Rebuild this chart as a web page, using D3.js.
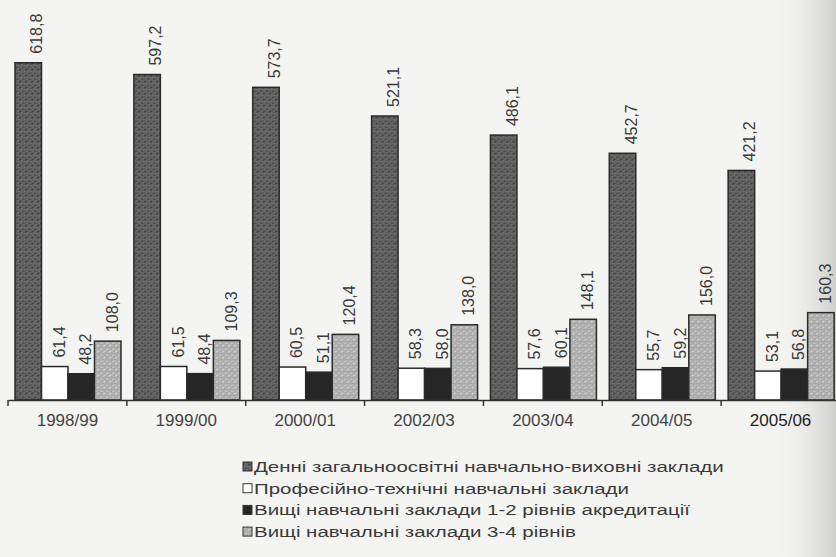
<!DOCTYPE html>
<html>
<head>
<meta charset="utf-8">
<script src="https://cdn.jsdelivr.net/npm/d3@7"></script>
<style>
  html, body { margin: 0; padding: 0; background: #f4f4f2; }
  svg { display: block; font-family: Arial, "Liberation Sans", sans-serif; }
</style>
</head>
<body>
<svg id="chart" width="836" height="557"></svg>
<script>
// School years
const years = ["1998/99", "1999/00", "2000/01", "2002/03", "2003/04", "2004/05", "2005/06"];

// Values per type of institution, one array per series
const dayGeneral = [618.8, 597.2, 573.7, 521.1, 486.1, 452.7, 421.2];
const vocational = [61.4, 61.5, 60.5, 58.3, 57.6, 55.7, 53.1];
const higher12   = [48.2, 48.4, 51.1, 58.0, 60.1, 59.2, 56.8];
const higher34   = [108.0, 109.3, 120.4, 138.0, 148.1, 156.0, 160.3];

const seriesNames = [
  "Денні загальноосвітні навчально-виховні заклади",
  "Професійно-технічні навчальні заклади",
  "Вищі навчальні заклади 1-2 рівнів акредитації",
  "Вищі навчальні заклади 3-4 рівнів"
];

const seriesValues = [dayGeneral, vocational, higher12, higher34];
const fills = ["url(#darkDots)", "#ffffff", "#262626", "url(#lightDots)"];
const labelShift = [14, 10, 10, 10];

const svg = d3.select("#chart");
const W = 836, H = 557;

// page background with a darker strip along the right edge
const defs = svg.append("defs");
const edge = defs.append("linearGradient").attr("id", "edge").attr("x1", 0).attr("x2", 1);
edge.append("stop").attr("offset", "0").attr("stop-color", "#f4f4f2").attr("stop-opacity", 0);
edge.append("stop").attr("offset", "1").attr("stop-color", "#cfcfcd").attr("stop-opacity", 1);

// speckled fills
function speckle(id, base, dot, dot2) {
  const p = defs.append("pattern").attr("id", id)
    .attr("patternUnits", "userSpaceOnUse").attr("width", 6).attr("height", 6);
  p.append("rect").attr("width", 6).attr("height", 6).attr("fill", base);
  [[0.5, 0.5], [3.5, 2.5], [1.5, 4.5], [4.5, 5]].forEach(([x, y]) =>
    p.append("rect").attr("x", x).attr("y", y).attr("width", 1).attr("height", 1).attr("fill", dot));
  [[2.5, 1], [5, 3.5], [0, 3]].forEach(([x, y]) =>
    p.append("rect").attr("x", x).attr("y", y).attr("width", 1).attr("height", 1).attr("fill", dot2));
}
speckle("darkDots", "#5c5c5c", "#8a8a8a", "#3a3a3a");
speckle("lightDots", "#b4b4b4", "#8c8c8c", "#d6d6d6");

svg.append("rect").attr("width", W).attr("height", H).attr("fill", "#f4f4f2");
svg.append("rect").attr("x", 770).attr("width", 66).attr("height", H).attr("fill", "url(#edge)");

const baseY = 400;
const x0 = d3.scaleBand().domain(years).range([8, 840]).paddingInner(0).paddingOuter(0);
const x1 = d3.scaleBand().domain(d3.range(4)).range([7, 113]);
const y = d3.scaleLinear().domain([0, 700]).range([baseY, 18.5]);

// bars
const groups = svg.append("g").selectAll("g")
  .data(years)
  .join("g")
  .attr("transform", d => `translate(${x0(d)},0)`);

groups.selectAll("rect")
  .data((d, i) => seriesValues.map((s, k) => ({ k, v: s[i] })))
  .join("rect")
  .attr("x", d => x1(d.k))
  .attr("y", d => y(d.v))
  .attr("width", x1.bandwidth())
  .attr("height", d => baseY - y(d.v))
  .attr("fill", d => fills[d.k])
  .attr("stroke", "#2a2a2a")
  .attr("stroke-width", 1.5);

// value labels, rotated
groups.selectAll("text")
  .data((d, i) => seriesValues.map((s, k) => ({ k, v: s[i] })))
  .join("text")
  .attr("transform", d => `translate(${x1(d.k) + x1.bandwidth() / 2 + labelShift[d.k]},${y(d.v) - 9}) rotate(-90)`)
  .attr("font-size", 16)
  .attr("fill", "#3a3a3a")
  .text(d => d3.format(".1f")(d.v).replace(".", ","));

// category axis
const axis = d3.axisBottom(x0).tickSize(0).tickPadding(14);
const ax = svg.append("g").attr("transform", `translate(0,${baseY})`).call(axis);
ax.select(".domain").attr("stroke", "#333").attr("stroke-width", 1.5);
ax.selectAll(".tick text").attr("font-size", 17)
  .attr("font-family", "Arial, 'Liberation Sans', sans-serif")
  .attr("fill", (d, i) => i === years.length - 1 ? "#1e1e1e" : "#444");

// separators between year groups
svg.append("g").selectAll("line")
  .data(years)
  .join("line")
  .attr("x1", d => x0(d)).attr("x2", d => x0(d))
  .attr("y1", baseY).attr("y2", baseY + 6)
  .attr("stroke", "#333").attr("stroke-width", 1.5);

// legend
const legend = svg.append("g").attr("transform", "translate(243,467)");
const rows = legend.selectAll("g").data(seriesNames).join("g")
  .attr("transform", (d, i) => `translate(0,${i * 21.7})`);
rows.append("rect")
  .attr("x", 0).attr("y", -5).attr("width", 9).attr("height", 9)
  .attr("fill", (d, i) => fills[i]).attr("stroke", "#333").attr("stroke-width", 1);
rows.append("text")
  .attr("transform", "translate(11,5) scale(1.32,1)")
  .attr("font-size", 15.5).attr("fill", "#3a3a3a")
  .text(d => d);
</script>
</body>
</html>
